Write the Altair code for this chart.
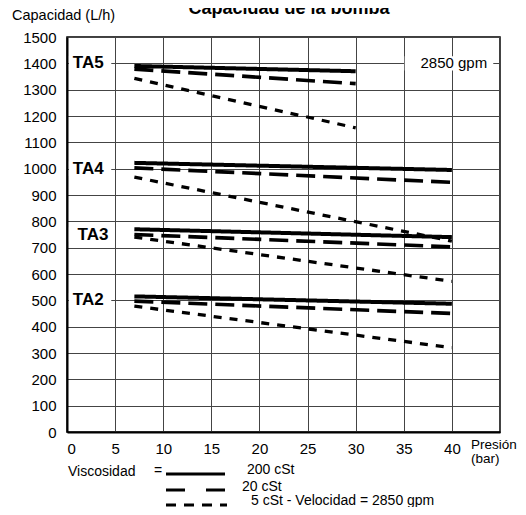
import altair as alt
import pandas as pd

# ---- data ----
series = ["TA5", "TA4", "TA3", "TA2"]
viscosities = ["200", "20", "5"]
p_start = [7, 7, 7, 7]
p_end = [30, 40, 40, 40]
cap_start_200 = [1390, 1022, 770, 515]
cap_end_200 = [1370, 995, 740, 487]
cap_start_20 = [1378, 1003, 750, 497]
cap_end_20 = [1323, 948, 703, 450]
cap_start_5 = [1343, 968, 740, 478]
cap_end_5 = [1155, 725, 572, 320]

label_y = [1400, 1000, 750, 500]
label_x = [0.6, 0.6, 1.1, 0.6]

x_ticks = list(range(0, 50, 5))
y_ticks = list(range(0, 1600, 100))

starts = {"200": cap_start_200, "20": cap_start_20, "5": cap_start_5}
ends = {"200": cap_end_200, "20": cap_end_20, "5": cap_end_5}

rows = []
for i, s in enumerate(series):
    for v in viscosities:
        rows.append({"serie": s, "visc": v, "p": p_start[i], "c": starts[v][i]})
        rows.append({"serie": s, "visc": v, "p": p_end[i], "c": ends[v][i]})
df = pd.DataFrame(rows)

labels_df = pd.DataFrame({"serie": series, "p": label_x, "c": label_y})
labels_df["p0"] = 0.2
labels_df["p1"] = 4.6
labels_df["c0"] = labels_df["c"] - 28
labels_df["c1"] = labels_df["c"] + 28

gpm_df = pd.DataFrame({"t": ["2850 gpm"], "p": [40.2], "c": [1400],
                       "p0": [35.1], "p1": [44.3], "c0": [1373], "c1": [1427]})

FONT = "Liberation Sans"
xscale = alt.Scale(domain=[0, 45], nice=False)
yscale = alt.Scale(domain=[0, 1500], nice=False)

x_axis = alt.Axis(values=x_ticks, labelExpr="datum.value == 45 ? '' : datum.label",
                  grid=True, gridColor="#444", gridWidth=1, ticks=False,
                  domainColor="black", domainWidth=2, labelFontSize=15,
                  labelPadding=9, labelColor="black", title=None, labelFont=FONT)
y_axis = alt.Axis(values=y_ticks, format="d", grid=True, gridColor="#444",
                  gridWidth=1, ticks=False, domainColor="black", domainWidth=2,
                  labelFontSize=15, labelPadding=11, labelColor="black",
                  title=None, labelFont=FONT)


def X(f):
    return alt.X(f, scale=xscale, axis=x_axis, title=None)


def Y(f):
    return alt.Y(f, scale=yscale, axis=y_axis, title=None)


lines = alt.Chart(df).mark_line(clip=False, color="black").encode(
    x=X("p:Q"),
    y=Y("c:Q"),
    strokeDash=alt.StrokeDash("visc:N", scale=alt.Scale(domain=viscosities,
                              range=[[1, 0], [19, 8], [8, 8]]), legend=None),
    strokeWidth=alt.StrokeWidth("visc:N", scale=alt.Scale(domain=viscosities,
                                range=[4, 3.3, 3.5]), legend=None),
    detail="serie:N",
)

label_bg = alt.Chart(labels_df).mark_rect(color="white").encode(
    x=X("p0:Q"), x2="p1:Q", y=Y("c0:Q"), y2="c1:Q")
label_txt = alt.Chart(labels_df).mark_text(
    align="left", baseline="middle", fontWeight="bold", fontSize=17, font=FONT,
    color="black").encode(x=X("p:Q"), y=Y("c:Q"), text="serie:N")

gpm_bg = alt.Chart(gpm_df).mark_rect(color="white").encode(
    x=X("p0:Q"), x2="p1:Q", y=Y("c0:Q"), y2="c1:Q")
gpm_txt = alt.Chart(gpm_df).mark_text(
    align="center", baseline="middle", fontSize=15, font=FONT, color="black").encode(
    x=X("p:Q"), y=Y("c:Q"), text="t:N")

one = pd.DataFrame({"k": [0]})


def txt(s, x, y, size=14, align="left", weight="normal"):
    return alt.Chart(one).mark_text(
        text=s, align=align, baseline="middle", fontSize=size, font=FONT,
        fontWeight=weight, color="black", clip=False).encode(
        x=alt.value(x), y=alt.value(y))


def rule(x1, x2, y, dash, w):
    return alt.Chart(one).mark_rule(color="black", strokeWidth=w,
                                    strokeDash=dash).encode(
        x=alt.value(x1), x2=alt.value(x2), y=alt.value(y))


annots = [
    alt.Chart(one).mark_text(text="Capacidad de la bomba", align="center",
                             baseline="alphabetic", fontSize=18, font=FONT,
                             fontWeight="bold", color="black").encode(
        x=alt.value(222), y=alt.value(-23)),
    txt("Capacidad (L/h)", -55, -21, size=14.5),
    txt("Presión", 404, 408, size=13.5),
    txt("(bar)", 404, 422, size=13.5),
    txt("Viscosidad", 1, 435),
    txt("=", 87, 434),
    rule(99, 158, 437, [1, 0], 3),
    txt("200 cSt", 180, 433),
    rule(99, 159, 453, [19, 21], 3),
    txt("20 cSt", 175, 450),
    rule(99, 160, 468, [10, 8], 3),
    txt("5 cSt  - Velocidad = 2850 gpm", 184, 464),
]

chart = alt.layer(lines, label_bg, gpm_bg, label_txt, gpm_txt, *annots).properties(
    width=433, height=395,
    padding={"left": 59, "top": 29, "right": 18, "bottom": 75},
    autosize=alt.AutoSizeParams(type="none"),
    background="white",
).configure_view(stroke="black", strokeWidth=1.5)

chart.save("out.html", embed_options={"renderer": "svg", "actions": False})
